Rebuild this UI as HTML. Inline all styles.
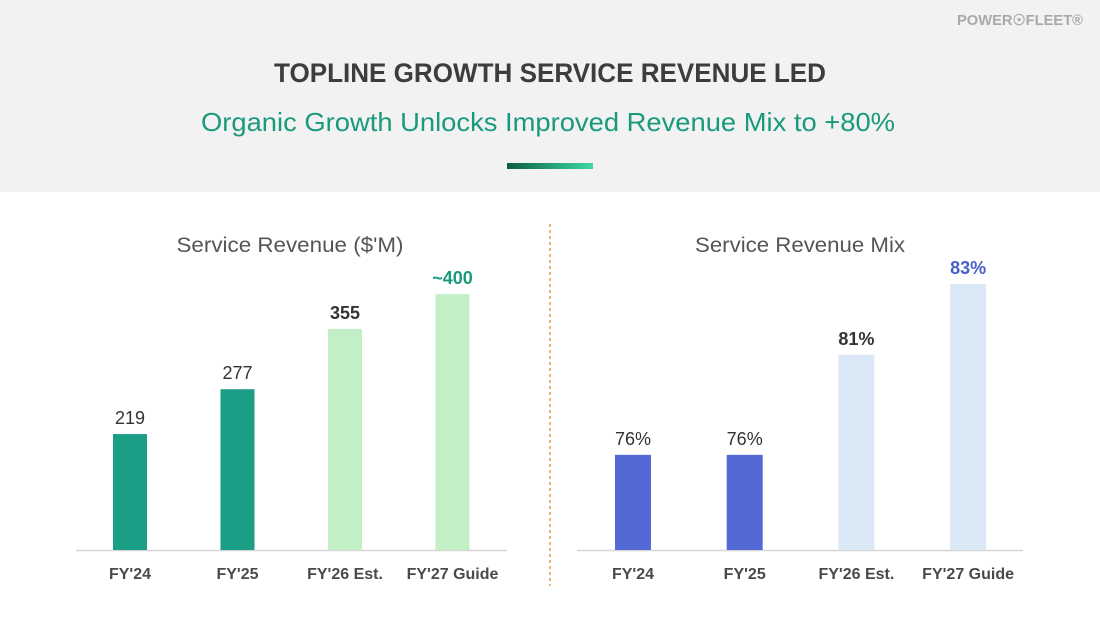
<!DOCTYPE html>
<html><head><meta charset="utf-8"><style>
html,body{margin:0;padding:0;background:#fff;}
svg{display:block;font-family:"Liberation Sans",sans-serif;}
</style></head><body>
<svg id="slide" width="1100" height="619" viewBox="0 0 1100 619">
<defs><linearGradient id="g1" x1="0" x2="1"><stop offset="0" stop-color="#0b5e45"/><stop offset="1" stop-color="#3fd9a4"/></linearGradient></defs>
<rect x="0" y="0" width="1100" height="192" fill="#f2f2f2"/>
<text x="1020" y="25" text-anchor="middle" font-size="15" font-weight="bold" fill="#a9a9a9" textLength="126" lengthAdjust="spacingAndGlyphs">POWER&#x2609;FLEET®</text>
<text x="550" y="82" text-anchor="middle" font-size="27" font-weight="bold" fill="#3d3d3d" textLength="552" lengthAdjust="spacingAndGlyphs">TOPLINE GROWTH SERVICE REVENUE LED</text>
<text x="548" y="131" text-anchor="middle" font-size="26" fill="#1a9a7c" textLength="694" lengthAdjust="spacingAndGlyphs">Organic Growth Unlocks Improved Revenue Mix to +80%</text>
<rect x="507" y="163" width="86" height="6" fill="url(#g1)"/>
<line x1="550" y1="224" x2="550" y2="586" stroke="#e08a3c" stroke-width="1.3" stroke-dasharray="3,3"/>
<text x="290" y="252" text-anchor="middle" font-size="21" fill="#555" textLength="227" lengthAdjust="spacingAndGlyphs">Service Revenue ($'M)</text>
<text x="800" y="252" text-anchor="middle" font-size="21" fill="#555" textLength="210" lengthAdjust="spacingAndGlyphs">Service Revenue Mix</text>
<g id="left"></g>
<g id="right"></g>
</svg>
<script>
const categories = ["FY'24","FY'25","FY'26 Est.","FY'27 Guide"];
const revenueValues = [219, 277, 355, 400];
const revenueLabels = ["219","277","355","~400"];
const mixValues = [76, 76, 80.1, 83];
const mixLabels = ["76%","76%","81%","83%"];

const NS = "http://www.w3.org/2000/svg";
function mk(tag, attrs, parent){const e=document.createElementNS(NS,tag);for(const k in attrs)e.setAttribute(k,attrs[k]);parent.appendChild(e);return e;}
const baseY = 550;
function drawChart(g, vals, labels, cfg){
  const yScale = v => baseY - (v - cfg.min) * cfg.k;
  const ax = mk('line',{x1:cfg.x0,x2:cfg.x1,y1:baseY+0.5,y2:baseY+0.5,stroke:'#d6d6d6','stroke-width':1.5},g);
  
  
  vals.forEach((v,i)=>{
    const cx = cfg.c0 + i*cfg.step;
    const top = yScale(v);
    const r = mk('rect',{x:cx-cfg.w/2,y:top,width:cfg.w,height:baseY-top,fill:cfg.colors[i]},g);
    
    
    const t = mk('text',{x:cx,y:top-10,'text-anchor':'middle','font-size':18,fill:cfg.lblColors[i],'font-weight':cfg.bold[i]?'bold':'normal'},g);
    t.textContent = labels[i];
    
    
    const c = mk('text',{x:cx,y:579,'text-anchor':'middle','font-size':16,'font-weight':'bold',fill:'#4a4a4a'},g);
    c.textContent = categories[i];
    
    
  });
}
drawChart(document.getElementById('left'), revenueValues, revenueLabels, {
  prefix:'revenue', min:69, k:0.773, x0:76, x1:507, c0:130, step:107.5, w:34,
  colors:['#1a9e85','#1a9e85','#c2efc6','#c2efc6'],
  lblColors:['#333','#333','#333','#1a9a7c'], bold:[false,false,true,true]
});
drawChart(document.getElementById('right'), mixValues, mixLabels, {
  prefix:'mix', min:72.1, k:24.4, x0:577, x1:1023, c0:633, step:111.7, w:36,
  colors:['#5469d6','#5469d6','#dbe8f5','#dbe8f5'],
  lblColors:['#333','#333','#333','#4a5fcc'], bold:[false,false,true,true]
});
</script>
</body></html>
